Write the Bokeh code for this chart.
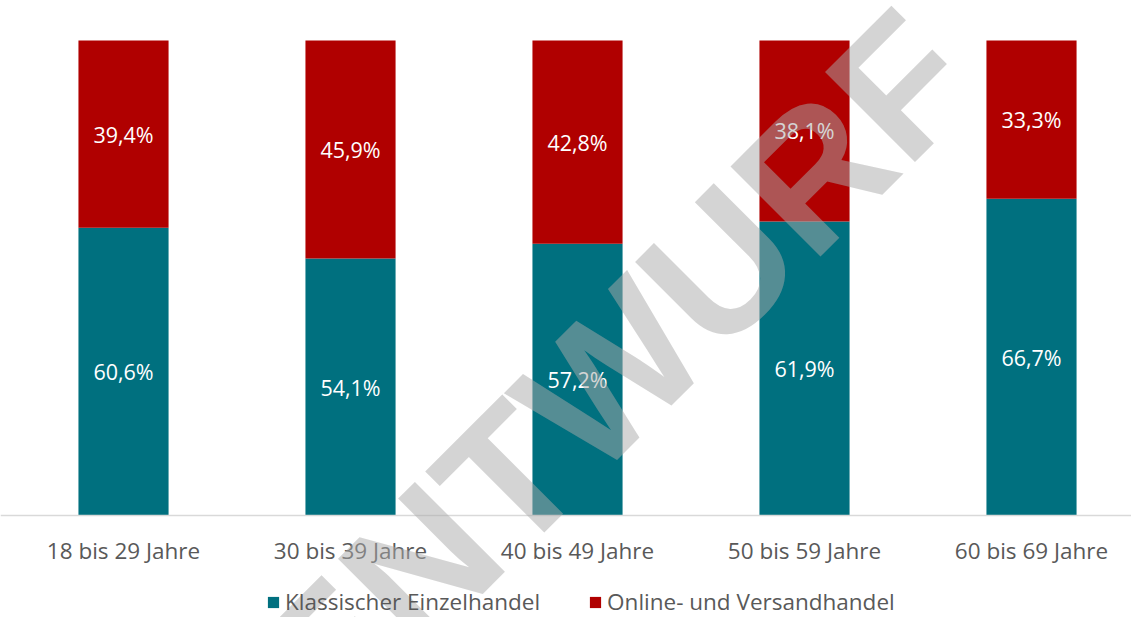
import math
from bokeh.plotting import figure
from bokeh.models import (ColumnDataSource, Range1d, FixedTicker, Legend, LegendItem, Label)
from bokeh.core.properties import value
from bokeh.embed import file_html
from bokeh.resources import INLINE

categories = ["18 bis 29 Jahre", "30 bis 39 Jahre", "40 bis 49 Jahre", "50 bis 59 Jahre", "60 bis 69 Jahre"]
klassisch = [60.6, 54.1, 57.2, 61.9, 66.7]
online = [39.4, 45.9, 42.8, 38.1, 33.3]
series_names = ["Klassischer Einzelhandel", "Online- und Versandhandel"]
colors = ["#00707F", "#B00000"]

FONT = "Open Sans"
FS = "22.5px"
LFS = "21.5px"

xs = list(range(len(categories)))
src = ColumnDataSource(dict(
    x=xs,
    k_top=klassisch,
    o_bottom=klassisch,
    o_top=[a + b for a, b in zip(klassisch, online)],
    k_mid=[a / 2 for a in klassisch],
    o_mid=[a + b / 2 for a, b in zip(klassisch, online)],
    k_lab=[f"{v:.1f}".replace(".", ",") + "%" for v in klassisch],
    o_lab=[f"{v:.1f}".replace(".", ",") + "%" for v in online],
))

p = figure(width=1131, height=617, output_backend="svg", toolbar_location=None,
           x_range=Range1d(-0.5419, 4.4405), y_range=Range1d(-21.47, 108.42),
           min_border=0)
p.outline_line_color = None
p.xgrid.visible = False
p.ygrid.visible = False
p.yaxis.visible = False

r1 = p.vbar(x="x", top="k_top", bottom=0, width=0.397, source=src, fill_color=colors[0], line_color=None)
r2 = p.vbar(x="x", top="o_top", bottom="o_bottom", width=0.397, source=src, fill_color=colors[1], line_color=None)

p.text(x="x", y="k_mid", text="k_lab", source=src, text_color="white", text_font=value(FONT),
       text_font_size=LFS, text_align="center", text_baseline="middle")
p.text(x="x", y="o_mid", text="o_lab", source=src, text_color="white", text_font=value(FONT),
       text_font_size=LFS, text_align="center", text_baseline="middle")

ax = p.xaxis[0]
ax.fixed_location = 0
ax.ticker = FixedTicker(ticks=xs)
ax.major_label_overrides = {i: c for i, c in zip(xs, categories)}
ax.major_tick_line_color = None
ax.minor_tick_line_color = None
ax.major_tick_out = 0
ax.major_tick_in = 0
ax.axis_line_color = "#d9d9d9"
ax.axis_line_width = 1.5
ax.major_label_standoff = 19
ax.major_label_text_font = FONT
ax.major_label_text_font_size = FS
ax.major_label_text_color = "#595959"

legend = Legend(items=[LegendItem(label=series_names[0], renderers=[r1]),
                       LegendItem(label=series_names[1], renderers=[r2])],
                orientation="horizontal", location=(266, 0),
                glyph_width=14, glyph_height=14, label_standoff=5, spacing=48,
                label_text_font=FONT, label_text_font_size=FS, label_text_color="#595959",
                border_line_color=None, background_fill_alpha=0, padding=0, margin=0)
p.add_layout(legend, "center")

wm = Label(x=2.16, y=30.1, text="ENTWURF", angle=math.pi / 4, text_align="center", text_baseline="middle",
           text_font="Liberation Sans", text_font_style="bold", text_font_size="185px",
           text_color="#aaaaaa", text_alpha=0.5)
p.add_layout(wm)

open("out.html", "w").write(file_html(p, INLINE))
